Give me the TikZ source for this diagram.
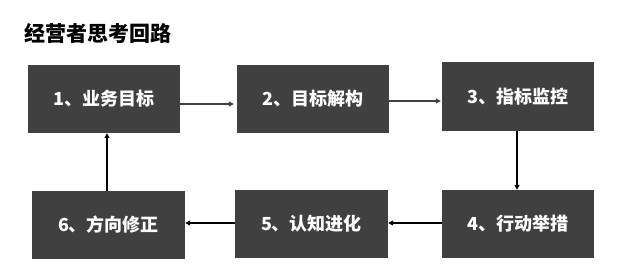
\documentclass[tikz,border=0pt]{standalone}
\usepackage{fontspec}
\setmainfont{Noto Sans CJK SC}
\usetikzlibrary{arrows.meta}
\definecolor{boxgray}{HTML}{404040}
\tikzset{
  stepbox/.style={draw=none,fill=boxgray,text=white,font=\fontsize{18}{21}\selectfont\bfseries,inner sep=0pt},
  toparrow/.style={draw=boxgray,line width=1.1pt,-{Triangle[length=5pt,width=5pt]}},
  botarrow/.style={draw=black,line width=1.3pt,-{Triangle[length=5pt,width=5pt]}}
}
\begin{document}
\begin{tikzpicture}[x=1pt,y=-1pt]
\useasboundingbox (0,0) rectangle (619,275);
\node[anchor=west,inner sep=0pt,font=\fontsize{21}{24}\selectfont\bfseries] (title) at (24,33) {经营者思考回路};
\node[stepbox,minimum width=152pt,minimum height=68pt] (b1) at (104,99) {1、业务目标};
\node[stepbox,minimum width=152pt,minimum height=68pt] (b2) at (313,99) {2、目标解构};
\node[stepbox,minimum width=152pt,minimum height=69pt] (b3) at (518,96.5) {3、指标监控};
\node[stepbox,minimum width=152pt,minimum height=68pt] (b4) at (518,224) {4、行动举措};
\node[stepbox,minimum width=153pt,minimum height=68pt] (b5) at (311.5,224) {5、认知进化};
\node[stepbox,minimum width=153pt,minimum height=68pt] (b6) at (108.5,225) {6、方向修正};
\draw[toparrow] (b1.east |- 0,104) -- ([xshift=-3pt]b2.west |- 0,104);
\draw[toparrow] (b2.east |- 0,101) -- ([xshift=-1pt]b3.west |- 0,101);
\draw[botarrow] (517,0 |- b3.south) -- (517,0 |- b4.north);
\draw[botarrow] (b4.west |- 0,223) -- (b5.east |- 0,223);
\draw[botarrow] (b5.west |- 0,223) -- (b6.east |- 0,223);
\draw[botarrow] (107,0 |- b6.north) -- (107,0 |- b1.south);
\end{tikzpicture}
\end{document}
